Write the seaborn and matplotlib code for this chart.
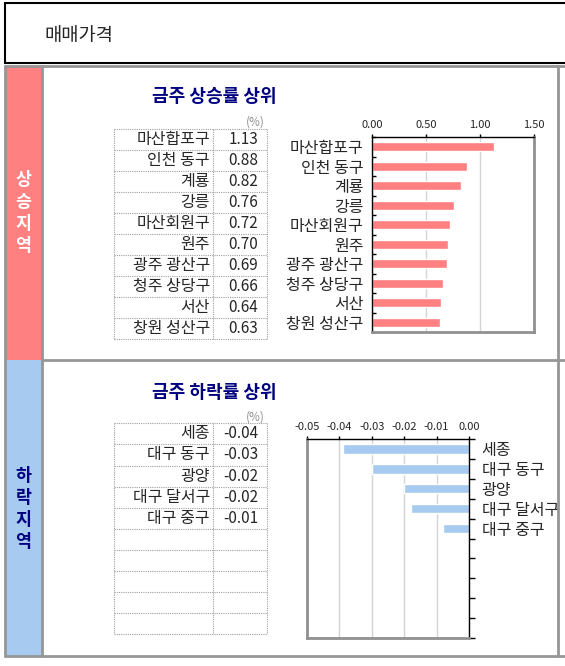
import matplotlib
matplotlib.use("Agg")
import matplotlib.pyplot as plt
import seaborn as sns
from matplotlib.patches import Rectangle
from matplotlib.lines import Line2D
from matplotlib.ticker import FixedLocator, FormatStrFormatter

# ---- data ----
page_title = "매매가격"
up_title = "금주 상승률 상위"
down_title = "금주 하락률 상위"
up_regions = ["마산합포구", "인천 동구", "계룡", "강릉", "마산회원구",
              "원주", "광주 광산구", "청주 상당구", "서산", "창원 성산구"]
up_values = [1.13, 0.88, 0.82, 0.76, 0.72, 0.70, 0.69, 0.66, 0.64, 0.63]
down_regions = ["세종", "대구 동구", "광양", "대구 달서구", "대구 중구"]
down_values = [-0.039, -0.030, -0.020, -0.018, -0.008]
up_ticks = [0.0, 0.5, 1.0, 1.5]
down_ticks = [-0.05, -0.04, -0.03, -0.02, -0.01, 0.0]

RED = "#FF8080"
BLUE = "#A6CAF0"
NAVY = "#000080"
GRAY = "#969696"

sns.set_theme(style="white")
plt.rcParams["font.family"] = ["Noto Sans CJK KR", "DejaVu Sans"]

W, H = 565, 666
fig = plt.figure(figsize=(W / 100, H / 100), dpi=100)


def fx(x):
    return x / W


def fy(y):
    return 1 - y / H


def rect(x0, y0, x1, y1, **kw):
    fig.add_artist(Rectangle((fx(x0), fy(y1)), fx(x1) - fx(x0), fy(y0) - fy(y1),
                             transform=fig.transFigure, **kw))


def line(x0, y0, x1, y1, **kw):
    fig.add_artist(Line2D([fx(x0), fx(x1)], [fy(y0), fy(y1)],
                          transform=fig.transFigure, **kw))


# page title box
rect(5, 3, 580, 63, facecolor="white", edgecolor="black", linewidth=1.5)
fig.text(fx(44), fy(35), page_title, fontsize=13.5, va="center", ha="left")

# side bands
rect(5, 66, 42, 360, facecolor=RED, edgecolor="none")
rect(5, 360, 42, 656, facecolor=BLUE, edgecolor="none")
fig.text(fx(23.5), fy(213), "\n".join("상승지역"), color="white", fontsize=12.5,
         fontweight="bold", ha="center", va="center", linespacing=1.3)
fig.text(fx(23.5), fy(509), "\n".join("하락지역"), color=NAVY, fontsize=12.5,
         fontweight="bold", ha="center", va="center", linespacing=1.3)

# section frame lines
for seg in [(5, 66, 580, 66), (5, 656, 580, 656), (42, 360, 580, 360),
            (5, 66, 5, 656), (42, 66, 42, 656), (558, 66, 558, 656)]:
    line(*seg, color=GRAY, linewidth=2)


def draw_table(top, bottom, labels, values, title, title_y, pct_y):
    left, mid, right = 114, 213, 267
    n = 10
    rh = (bottom - top) / n
    dot = dict(color="#A0A0A0", linewidth=0.8, linestyle=(0, (1, 1)))
    for i in range(n + 1):
        line(left, top + i * rh, right, top + i * rh, **dot)
    for x in (left, mid, right):
        line(x, top, x, bottom, **dot)
    for i, (lab, v) in enumerate(zip(labels, values)):
        yc = top + (i + 0.5) * rh
        fig.text(fx(210), fy(yc), lab, fontsize=11.5, ha="right", va="center")
        fig.text(fx(258), fy(yc), f"{v:.2f}", fontsize=11, ha="right", va="center")
    fig.text(fx(214), fy(title_y), title, color=NAVY, fontsize=13,
             fontweight="bold", ha="center", va="center")
    fig.text(fx(265), fy(pct_y), "(%)", color="#909090", fontsize=8.5,
             ha="right", va="center")


draw_table(129.3, 339.3, up_regions, up_values, up_title, 96, 122)
draw_table(423.3, 634.3, down_regions, down_values, down_title, 393, 417)


def add_ax(x0, y0, x1, y1):
    return fig.add_axes([fx(x0), fy(y1), fx(x1) - fx(x0), fy(y0) - fy(y1)])


# rising chart
ax1 = add_ax(372, 137, 534, 332)
sns.barplot(x=up_values, y=up_regions, orient="h", color=RED, saturation=1,
            width=0.47, ax=ax1)
ax1.set_xlim(0, 1.5)
ax1.set_ylim(9.5, -0.5)
ax1.set_xticks(up_ticks)
ax1.xaxis.set_major_formatter(FormatStrFormatter("%.2f"))
ax1.xaxis.tick_top()
ax1.grid(axis="x", color="#D4D4D4", linewidth=1)
ax1.set_axisbelow(True)
ax1.yaxis.set_minor_locator(FixedLocator([i - 0.5 for i in range(11)]))
ax1.tick_params(axis="y", which="major", length=0, labelsize=11.5, pad=6)
ax1.tick_params(axis="y", which="minor", left=True, direction="in", length=3,
                width=1, color="black")
ax1.tick_params(axis="x", top=True, length=2, width=1, color="black",
                labelsize=8, pad=3)
for side in ("left", "top"):
    ax1.spines[side].set_color("black")
    ax1.spines[side].set_linewidth(1)
for side in ("right", "bottom"):
    ax1.spines[side].set_color("#909090")
    ax1.spines[side].set_linewidth(2)
ax1.set_xlabel("")
ax1.set_ylabel("")

# falling chart
ax2 = add_ax(307, 439, 469, 638)
sns.barplot(x=down_values, y=down_regions, orient="h", color=BLUE, saturation=1,
            width=0.47, ax=ax2)
ax2.set_xlim(-0.05, 0.0)
ax2.set_ylim(9.5, -0.5)
ax2.set_xticks(down_ticks)
ax2.xaxis.set_major_formatter(FormatStrFormatter("%.2f"))
ax2.xaxis.tick_top()
ax2.yaxis.tick_right()
ax2.grid(axis="x", color="#D4D4D4", linewidth=1)
ax2.set_axisbelow(True)
ax2.yaxis.set_minor_locator(FixedLocator([i - 0.5 for i in range(11)]))
ax2.tick_params(axis="y", which="major", length=0, labelsize=11.5, pad=9)
ax2.tick_params(axis="y", which="minor", right=True, left=False, direction="out",
                length=4, width=1, color="black")
ax2.tick_params(axis="x", top=True, length=2, width=1, color="black",
                labelsize=8, pad=3)
for side in ("right", "top"):
    ax2.spines[side].set_color("black")
    ax2.spines[side].set_linewidth(1)
for side in ("left", "bottom"):
    ax2.spines[side].set_color("#909090")
    ax2.spines[side].set_linewidth(2)
ax2.set_xlabel("")
ax2.set_ylabel("")

fig.savefig("out.png", dpi=100)
plt.close(fig)
